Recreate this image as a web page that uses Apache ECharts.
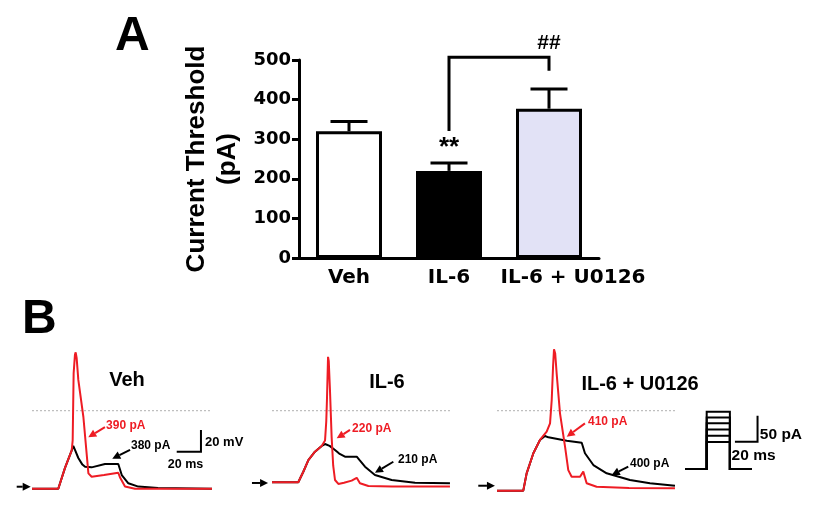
<!DOCTYPE html>
<html>
<head>
<meta charset="utf-8">
<script src="https://cdn.jsdelivr.net/npm/echarts@6/dist/echarts.min.js"></script>
<style>html,body{margin:0;padding:0;background:#fff}#c{width:817px;height:511px}</style>
</head>
<body>
<div id="c"></div>
<script>
// ---------- Panel A data ----------
const categories = ['Veh', 'IL-6', 'IL-6 + U0126'];
const thresholdMean = [320, 220, 377];
const thresholdSem = [25, 20, 50];
const barColors = ['#ffffff', '#000000', '#e2e2f6'];
const yTickMax = 500, yTickStep = 100;
const bracketValues = [321, 507, 473]; // left start, top, right end (pA)
const sigMarks = [['IL-6', 277, '**'], ['IL-6 + U0126', 543, '##']];

// ---------- Panel B data (time ms, membrane potential mV) ----------
const zeroLine = [[0, 0], [150, 0]];
const vehRed = [[0,-71],[21.9,-71],[27.5,-52],[33.1,-36],[33.9,-27],[34.7,34],[35.8,51],[36.4,53],[37.2,48],[38.6,28],[42.8,-5.5],[47,-57],[49.7,-60],[60,-58.5],[71.9,-56.4],[73.5,-61],[77.5,-69],[85.8,-71],[150,-71]];
const vehBlack = [[0,-71],[21.9,-71],[27.5,-52],[33.1,-36],[34.4,-32],[36,-36],[38.6,-43],[42,-49],[44.2,-51],[49.7,-51.5],[60.8,-48.5],[71.9,-48.5],[74.8,-58.5],[80.3,-66],[88.6,-69],[105,-70.3],[150,-71]];
const il6Red = [[0,-65],[21.9,-65],[26.1,-55.5],[30.3,-45],[35.8,-37.3],[41.4,-32],[44.2,-27],[45.2,-10],[45.8,10],[46.7,49],[47.3,45],[48.3,19],[49.7,-24],[51,-50],[52.5,-63],[55.3,-66.6],[60,-65.5],[66.4,-63.6],[70.6,-61],[73.3,-66],[80.3,-68.5],[100,-69],[148.3,-69]];
const il6Black = [[0,-65],[21.9,-65],[26.1,-55.5],[30.3,-45],[35.8,-37.3],[41.4,-32.1],[44.2,-30.3],[48,-32],[52.5,-35.7],[56,-39],[60.8,-41.8],[70.6,-41.8],[73,-45],[77.5,-50.9],[85.8,-58.5],[99.7,-63],[119.2,-65.5],[148.3,-66]];
const uRed = [[0,-72.7],[21.9,-72.7],[24.7,-57],[30.3,-38.7],[35.8,-26.6],[41.4,-19],[44.2,-11.5],[45.6,9.7],[46.7,40],[47.5,55.8],[48.5,52],[49.7,34],[52.5,-2.4],[56.7,-32.7],[59.4,-54],[62.2,-60],[69.2,-60],[71.9,-55.4],[74.7,-66],[83,-69.1],[110,-70.3],[148.3,-70.5]];
const uBlack = [[0,-72.7],[21.9,-72.7],[24.7,-57],[30.3,-38.7],[35.8,-26.6],[40,-23],[42.8,-24.2],[58.1,-27.3],[70.6,-29.1],[73.3,-38.7],[80.3,-49.4],[91.4,-56.9],[110.8,-63],[127.5,-66],[148.3,-68.2]];

// step protocol (pA)
const stepLevels = [52, 64, 76, 88, 99, 110];
const stepOn = 18.9, stepOff = 39.1, stepEnd = 58;

const RED = '#ee1c24';

// ---------- annotations (data coords of each sub-panel) ----------
const panelTexts = [
  [ {s:'Veh', t:79.2, v:27.9, c:'#000', f:20, a:'center'},
    {s:'390 pA', t:61.7, v:-13.9, c:RED, f:12, a:'left'},
    {s:'380 pA', t:82.5, v:-32.1, c:'#000', f:12, a:'left'},
    {s:'20 mV', t:144.2, v:-28.5, c:'#000', f:13, a:'left'},
    {s:'20 ms', t:127.9, v:-48.5, c:'#000', f:12.5, a:'center'} ],
  [ {s:'IL-6', t:95.8, v:25.2, c:'#000', f:20, a:'center'},
    {s:'220 pA', t:66.7, v:-16.6, c:RED, f:12, a:'left'},
    {s:'210 pA', t:105, v:-44.4, c:'#000', f:12, a:'left'} ],
  [ {s:'IL-6 + U0126', t:119.2, v:23.4, c:'#000', f:20, a:'center'},
    {s:'410 pA', t:75.8, v:-10, c:RED, f:12, a:'left'},
    {s:'400 pA', t:110.8, v:-48.5, c:'#000', f:12, a:'left'} ]
];
const panelArrows = [
  [ {p:[60.8,-15,46.9,-24.2], c:RED}, {p:[81.7,-35.7,66.9,-43.6], c:'#000'}, {p:[-12.75,-69.1,-1.1,-69.1], c:'#000'} ],
  [ {p:[65,-17.5,53.9,-25.1], c:RED}, {p:[101.1,-46.4,85.8,-56.4], c:'#000'}, {p:[-16.7,-65.7,-3.3,-65.7], c:'#000'} ],
  [ {p:[73.3,-11.5,58.1,-23.6], c:RED}, {p:[109.4,-50.9,95.6,-58.5], c:'#000'}, {p:[-15.6,-68.2,-1.7,-68.2], c:'#000'} ]
];
const vehScaleBar = [[120.6,-37.3],[140.8,-37.3],[140.8,-17.5]];
const protoScaleBar = [[43.5,52.5],[63.2,52.5],[63.2,102.5]];
const protoTexts = [{s:'50 pA', t:65.2, v:65.4, a:'left'}, {s:'20 ms', t:40.6, v:25, a:'left'}];

const chart = echarts.init(document.getElementById('c'), null, {renderer:'canvas'});

function arrowShape(p1, p2, color) {
  const dx = p2[0]-p1[0], dy = p2[1]-p1[1];
  const len = Math.hypot(dx, dy) || 1;
  const ux = dx/len, uy = dy/len;
  const hl = 8, hw = 4;
  const bx = p2[0]-ux*hl, by = p2[1]-uy*hl;
  return {type:'group', children:[
    {type:'line', shape:{x1:p1[0], y1:p1[1], x2:bx, y2:by}, style:{stroke:color, lineWidth:2}},
    {type:'polygon', shape:{points:[[p2[0],p2[1]],[bx-uy*hw, by+ux*hw],[bx+uy*hw, by-ux*hw]]}, style:{fill:color}}
  ]};
}

function traceLine(data, color, idx, z) {
  return {type:'line', xAxisIndex:idx, yAxisIndex:idx, data:data, showSymbol:false, symbol:'none',
    lineStyle:{color:color, width:2}, clip:false, z:z||2, animation:false, silent:true};
}
function annotSeries(idx) {
  const texts = panelTexts[idx-1], arrows = panelArrows[idx-1];
  return {type:'custom', xAxisIndex:idx, yAxisIndex:idx, data:[0], silent:true, animation:false, z:5,
    renderItem: function(params, api) {
      const ch = [];
      texts.forEach(o => {
        const p = api.coord([o.t, o.v]);
        ch.push({type:'text', x:p[0], y:p[1], style:{text:o.s, fill:o.c, font:'bold '+o.f+'px "Liberation Sans", Arial, sans-serif', textAlign:o.a, textVerticalAlign:'middle'}});
      });
      arrows.forEach(o => {
        ch.push(arrowShape(api.coord([o.p[0],o.p[1]]), api.coord([o.p[2],o.p[3]]), o.c));
      });
      if (idx === 1) {
        ch.push({type:'polyline', shape:{points:vehScaleBar.map(q => api.coord(q))}, style:{stroke:'#000', lineWidth:2, fill:null}});
      }
      return {type:'group', children:ch};
    }};
}

const bGridTop = 344.7, bGridH = 154;
const option = {
  animation:false,
  backgroundColor:'#fff',
  textStyle:{fontFamily:'"DejaVu Sans", sans-serif'},
  title:[
    {text:'A', left:110, top:8, textStyle:{fontSize:48, fontWeight:'bold', fontFamily:'"Liberation Sans", Arial', color:'#000'}},
    {text:'B', left:17, top:291, textStyle:{fontSize:48, fontWeight:'bold', fontFamily:'"Liberation Sans", Arial', color:'#000'}}
  ],
  grid:[
    {left:299, top:60, width:300, height:198},
    {left:32, top:bGridTop, width:228, height:bGridH},
    {left:272, top:bGridTop, width:228, height:bGridH},
    {left:497, top:bGridTop, width:228, height:bGridH},
    {left:685, top:401.4, width:132.25, height:78}
  ],
  xAxis:[
    {type:'category', gridIndex:0,
     data: categories.map((c, i) => i === 2 ? {value:c, textStyle:{padding:[0,0,0,48]}} : c),
     axisLine:{lineStyle:{color:'#000', width:3}},
     axisTick:{alignWithLabel:true, length:7, lineStyle:{width:3, color:'#000'}},
     axisLabel:{interval:0, hideOverlap:false, color:'#000', fontSize:20, fontWeight:'bold', margin:10, fontFamily:'"DejaVu Sans", sans-serif'}},
    {type:'value', gridIndex:1, min:0, max:190, show:false},
    {type:'value', gridIndex:2, min:0, max:190, show:false},
    {type:'value', gridIndex:3, min:0, max:190, show:false},
    {type:'value', gridIndex:4, min:0, max:115, show:false}
  ],
  yAxis:[
    {type:'value', gridIndex:0, min:0, max:yTickMax, interval:yTickStep,
     name:'Current Threshold\n(pA)', nameLocation:'middle', nameRotate:90, nameGap:56,
     nameTextStyle:{color:'#000', fontSize:26, fontWeight:'bold', lineHeight:31, fontFamily:'"Liberation Sans", Arial, sans-serif', align:'center'},
     axisLine:{show:true, lineStyle:{color:'#000', width:3}},
     axisTick:{show:true, length:7, lineStyle:{width:3, color:'#000'}},
     splitLine:{show:false},
     axisLabel:{color:'#000', fontSize:18, fontWeight:'bold', margin:8, fontFamily:'"DejaVu Sans", sans-serif'}},
    {type:'value', gridIndex:1, min:-80, max:60, show:false},
    {type:'value', gridIndex:2, min:-80, max:60, show:false},
    {type:'value', gridIndex:3, min:-80, max:60, show:false},
    {type:'value', gridIndex:4, min:-20, max:130, show:false}
  ],
  series:[
    {type:'bar', xAxisIndex:0, yAxisIndex:0, barWidth:66, animation:false, silent:true,
     data: thresholdMean.map((v,i) => ({value:v, itemStyle:{color:barColors[i], borderColor:'#000', borderWidth:3}}))},
    {type:'custom', xAxisIndex:0, yAxisIndex:0, silent:true, animation:false, z:4,
     data: thresholdMean.map((v,i) => [i, v, v + thresholdSem[i]]),
     renderItem: function(params, api) {
       const b = api.coord([api.value(0), api.value(1)]);
       const t = api.coord([api.value(0), api.value(2)]);
       return {type:'group', children:[
         {type:'line', shape:{x1:b[0], y1:b[1], x2:t[0], y2:t[1]}, style:{stroke:'#000', lineWidth:3}},
         {type:'line', shape:{x1:t[0]-18.5, y1:t[1], x2:t[0]+18.5, y2:t[1]}, style:{stroke:'#000', lineWidth:3}}
       ]};
     }},
    {type:'custom', xAxisIndex:0, yAxisIndex:0, silent:true, animation:false, z:4,
     data:[[1, 2]],
     renderItem: function(params, api) {
       const pts = [api.coord([1, bracketValues[0]]), api.coord([1, bracketValues[1]]), api.coord([2, bracketValues[1]]), api.coord([2, bracketValues[2]])];
       const ch = [{type:'polyline', shape:{points:pts}, style:{stroke:'#000', lineWidth:3, fill:null}}];
       sigMarks.forEach(m => {
         const p = api.coord([categories.indexOf(m[0]), m[1]]);
         ch.push({type:'text', x:p[0], y:p[1], style:{text:m[2], fill:'#000', font:'bold ' + (m[2]==='**'?26:21) + 'px "Liberation Sans", Arial, sans-serif', textAlign:'center', textVerticalAlign:'middle'}});
       });
       return {type:'group', children:ch};
     }},
    // panel B dotted zero lines
    Object.assign(traceLine(zeroLine, '#aaaaaa', 1, 1), {lineStyle:{color:'#b0b0b0', width:1, type:[2,2]}}),
    Object.assign(traceLine(zeroLine, '#aaaaaa', 2, 1), {lineStyle:{color:'#b0b0b0', width:1, type:[2,2]}}),
    Object.assign(traceLine(zeroLine, '#aaaaaa', 3, 1), {lineStyle:{color:'#b0b0b0', width:1, type:[2,2]}}),
    traceLine(vehBlack, '#000', 1, 2), traceLine(vehRed, RED, 1, 3),
    traceLine(il6Black, '#000', 2, 2), traceLine(il6Red, RED, 2, 3),
    traceLine(uBlack, '#000', 3, 2), traceLine(uRed, RED, 3, 3),
    annotSeries(1), annotSeries(2), annotSeries(3),
    {type:'custom', xAxisIndex:4, yAxisIndex:4, silent:true, animation:false,
     data: stepLevels.map(v => [v]),
     renderItem: function(params, api) {
       const L = api.value(0);
       const pts = [[0,0],[stepOn,0],[stepOn,L],[stepOff,L],[stepOff,0],[stepEnd,0]].map(q => api.coord(q));
       const ch = [{type:'polyline', shape:{points:pts}, style:{stroke:'#000', lineWidth:2, fill:null}}];
       if (params.dataIndex === 0) {
         ch.push({type:'polyline', shape:{points:protoScaleBar.map(q => api.coord(q))}, style:{stroke:'#000', lineWidth:2, fill:null}});
         protoTexts.forEach(o => {
           const p = api.coord([o.t, o.v]);
           ch.push({type:'text', x:p[0], y:p[1], style:{text:o.s, fill:'#000', font:'bold 15.5px "Liberation Sans", Arial, sans-serif', textAlign:o.a, textVerticalAlign:'middle'}});
         });
       }
       return {type:'group', children:ch};
     }}
  ]
};
chart.setOption(option);
</script>
</body>
</html>
